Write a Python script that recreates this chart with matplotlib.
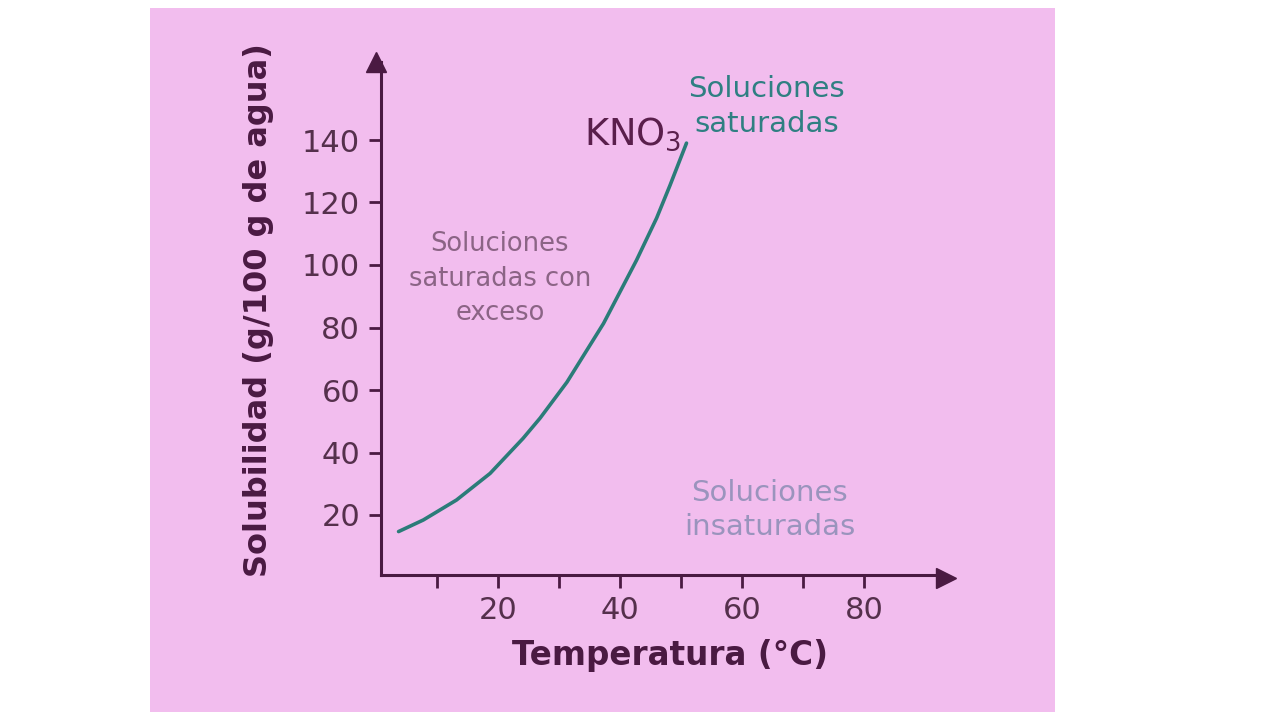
import matplotlib
matplotlib.use("Agg")
import matplotlib.pyplot as plt
from matplotlib.patches import Rectangle

# Data (KNO3 solubility curve)
temperatura = [3.7, 7.75, 13.2, 18.7, 24.1, 26.9, 31.3, 37.3, 42.7, 46.0, 48.2, 50.9]
solubilidad = [14.7, 18.4, 24.8, 33.3, 44.5, 51.0, 62.5, 81.3, 101.5, 115.0, 125.5, 139.0]
y_ticks = [20, 40, 60, 80, 100, 120, 140]
x_ticks_major = [20, 40, 60, 80]
x_ticks_minor = [10, 30, 50, 70]

W, H = 1280, 720
PINK = "#f2bdee"
AXIS = "#4a1a42"
TEAL = "#2b7c79"

fig = plt.figure(figsize=(12.8, 7.2), dpi=100)
fig.patch.set_facecolor("white")
bg = Rectangle((150 / W, 1 - 712 / H), (1055 - 150) / W, (712 - 8) / H,
               transform=fig.transFigure, facecolor=PINK, edgecolor="none", zorder=-10)
fig.patches.append(bg)

# axes placement in pixels
left_px, right_px, bottom_px, top_px = 381, 946, 575, 62
ax = fig.add_axes([left_px / W, 1 - bottom_px / H, (right_px - left_px) / W, (bottom_px - top_px) / H])
ax.set_zorder(5)
ax.set_facecolor("none")
x0_px, xs = 376.0, 6.1      # pixel of T=0, px per degree
y0_px, ys = 577.5, 3.125    # pixel of S=0, px per unit
ax.set_xlim((left_px - x0_px) / xs, (right_px - x0_px) / xs)
ax.set_ylim((y0_px - bottom_px) / ys, (y0_px - top_px) / ys)

for s in ["top", "right"]:
    ax.spines[s].set_visible(False)
for s in ["left", "bottom"]:
    ax.spines[s].set_color(AXIS)
    ax.spines[s].set_linewidth(2.2)

# arrowheads
ax.plot(1, 0, marker=">", ms=14, color=AXIS, transform=ax.get_yaxis_transform(), clip_on=False)
ax.plot(0, 1, marker="^", ms=14, color=AXIS, transform=ax.get_xaxis_transform(), clip_on=False)

ax.set_yticks(y_ticks)
ax.set_yticklabels([str(v) for v in y_ticks])
ax.set_xticks(x_ticks_major + x_ticks_minor)
ax.set_xticklabels([str(v) for v in x_ticks_major] + [""] * len(x_ticks_minor))
ax.tick_params(axis="both", direction="out", length=9, width=2.0, color=AXIS,
               labelcolor="#55304c", labelsize=22)
ax.tick_params(axis="y", pad=6)
ax.tick_params(axis="x", pad=6)

ax.plot(temperatura, solubilidad, color=TEAL, lw=2.6, solid_capstyle="round",
        solid_joinstyle="round")

ax.text(64.0, 160.7, "Soluciones\nsaturadas", color="#2f7f82", fontsize=21,
        ha="center", va="top", linespacing=1.3, clip_on=False)
ax.text(50.0, 142.0, "KNO$_3$", color="#5a1f4c", fontsize=26.5, ha="right", va="center")
ax.text(20.3, 110.9, "Soluciones\nsaturadas con\nexceso", color="#8b6485", fontsize=18.5,
        ha="center", va="top", linespacing=1.43)
ax.text(64.5, 21.7, "Soluciones\ninsaturadas", color="#9a94bd", fontsize=21,
        ha="center", va="center", linespacing=1.28)

fig.text(258 / W, 1 - 310 / H, "Solubilidad (g/100 g de agua)", rotation=90,
         ha="center", va="center", fontsize=23, fontweight="bold", color="#4a1a42")
fig.text(670 / W, 1 - 656 / H, "Temperatura (°C)", ha="center", va="center",
         fontsize=23.5, fontweight="bold", color="#4a1a42")

fig.savefig("out.png", dpi=100, facecolor=fig.get_facecolor())
